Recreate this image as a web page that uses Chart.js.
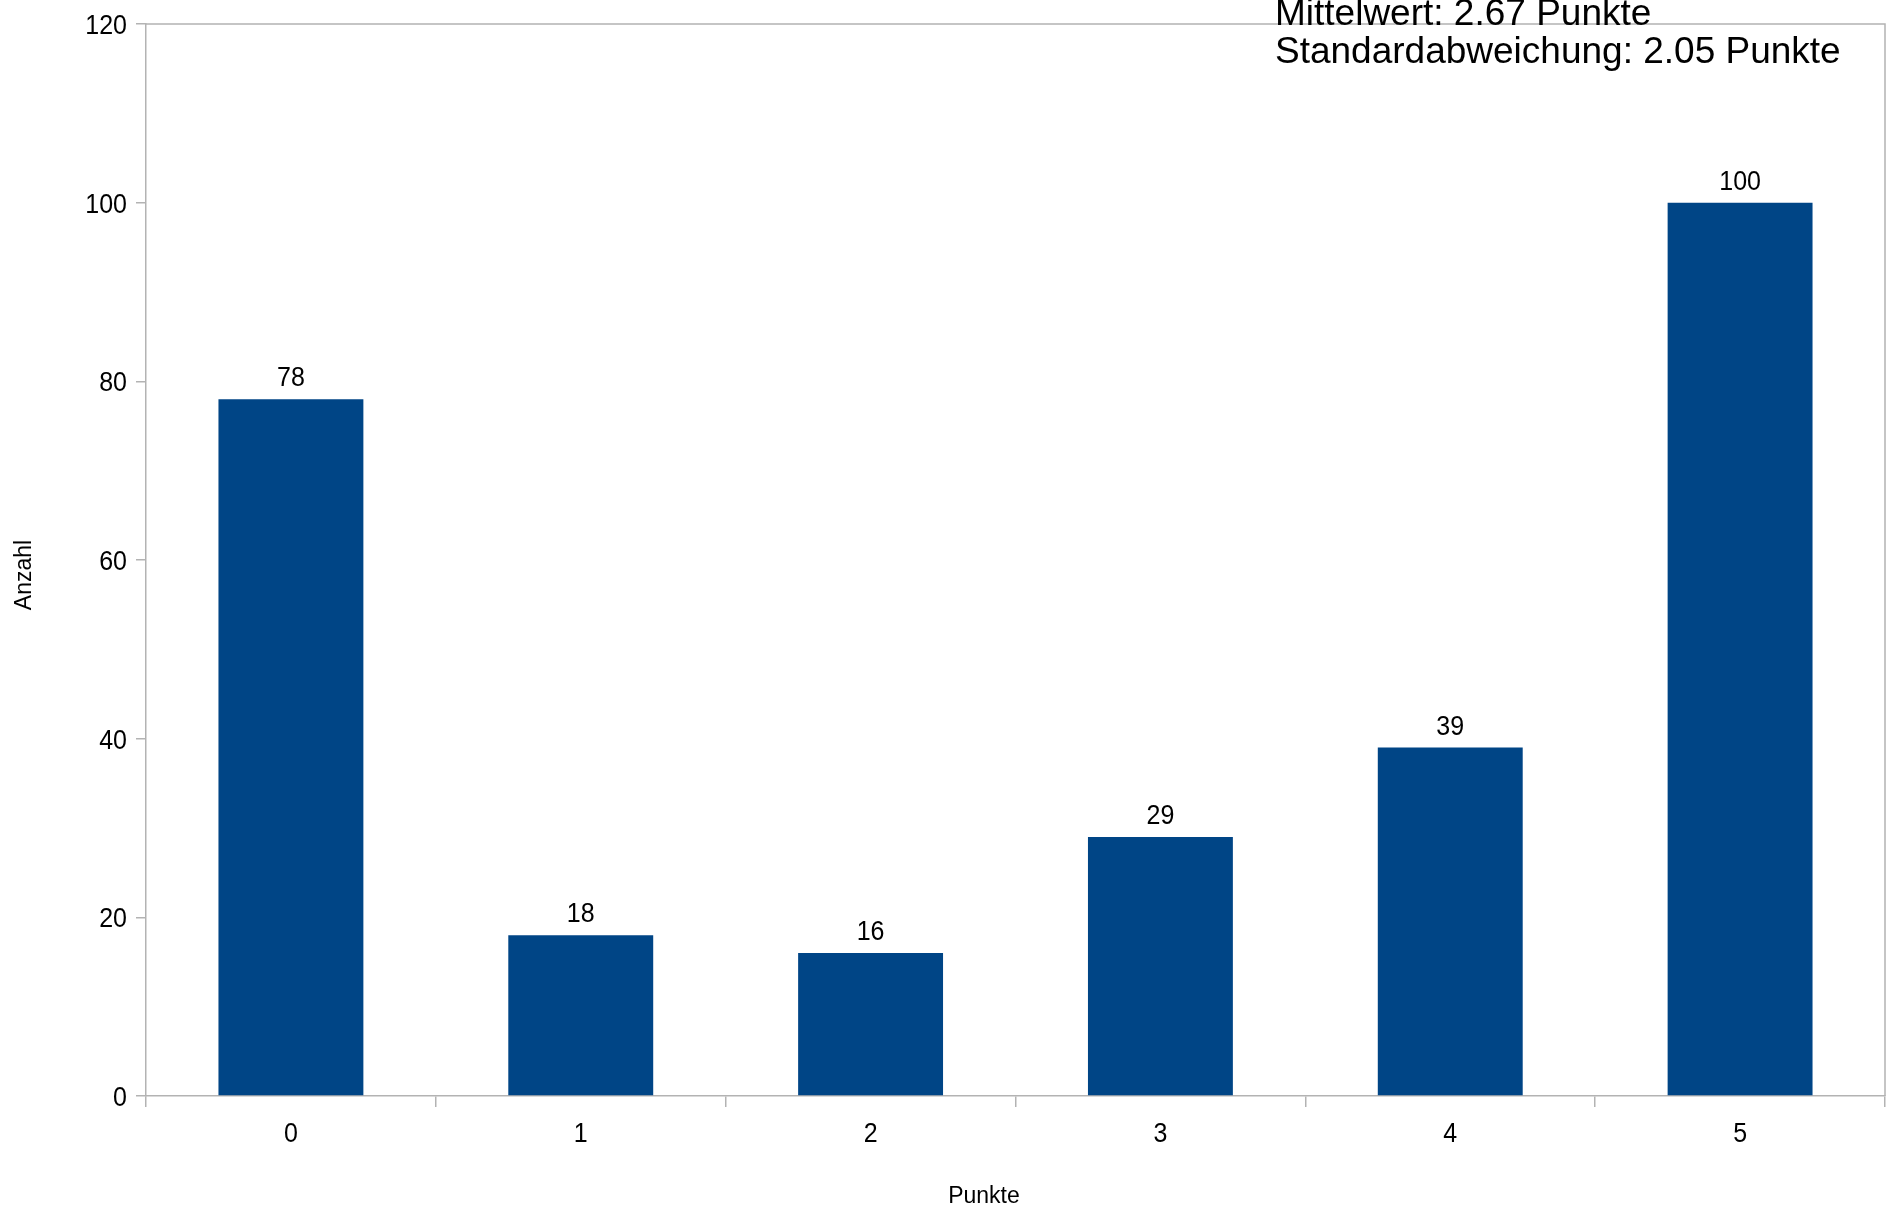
<!DOCTYPE html>
<html>
<head>
<meta charset="utf-8">
<script src="https://cdn.jsdelivr.net/npm/chart.js@4.4.1/dist/chart.umd.min.js"></script>
<style>
  html, body { margin: 0; padding: 0; background: #fff; overflow: hidden; }
  #wrap { width: 1894px; height: 1209px; position: relative; }
  #wrap canvas { display: block; }
</style>
</head>
<body>
<div id="wrap"><canvas id="chart-punkte"></canvas></div>
<script>
// ---- Data ----
const punkte = ['0', '1', '2', '3', '4', '5'];
const anzahl = [78, 18, 16, 29, 39, 100];
const yTicks = [0, 20, 40, 60, 80, 100, 120];
const statsLines = ['Mittelwert: 2.67 Punkte', 'Standardabweichung: 2.05 Punkte'];

const FONT = "'Liberation Sans', Arial, sans-serif";
const GREY = '#b3b3b3';
const NUM_FONT = `25px ${FONT}`;
const STRETCH = 1.12;   // numbers in the original are drawn slightly tall

Chart.defaults.font.family = FONT;
Chart.defaults.color = '#000';

// draws a label with a little vertical stretch, baseline at y
function tallText(ctx, text, x, y, align) {
  ctx.save();
  ctx.translate(x, y);
  ctx.scale(1, STRETCH);
  ctx.textAlign = align;
  ctx.fillText(text, 0, 0);
  ctx.restore();
}

// frame (top + right), tick labels, value labels, axis titles, stats text
const decorations = {
  id: 'decorations',
  afterDatasetsDraw(chart) {
    const { ctx, chartArea: a, scales } = chart;
    ctx.save();
    ctx.strokeStyle = GREY;
    ctx.lineWidth = 1.5;
    ctx.beginPath();
    ctx.moveTo(a.left, a.top);
    ctx.lineTo(a.right, a.top);
    ctx.lineTo(a.right, a.bottom);
    ctx.stroke();

    ctx.fillStyle = '#000';
    ctx.textBaseline = 'alphabetic';
    ctx.font = NUM_FONT;

    // y tick labels
    yTicks.forEach(v => {
      tallText(ctx, String(v), a.left - 19, scales.y.getPixelForValue(v) + 10, 'right');
    });
    // x tick labels
    punkte.forEach((p, i) => {
      tallText(ctx, p, scales.x.getPixelForTick(i), a.bottom + 46, 'center');
    });
    // values above bars
    chart.getDatasetMeta(0).data.forEach((bar, i) => {
      tallText(ctx, String(anzahl[i]), bar.x, bar.y - 13, 'center');
    });

    // axis titles
    ctx.textAlign = 'center';
    ctx.font = `23px ${FONT}`;
    ctx.fillText('Punkte', 984, 1203);
    ctx.save();
    ctx.translate(31, 575);
    ctx.rotate(-Math.PI / 2);
    ctx.fillText('Anzahl', 0, 0);
    ctx.restore();

    // stats box text
    ctx.font = `37px ${FONT}`;
    ctx.textAlign = 'left';
    ctx.fillText(statsLines[0], 1275, 25);
    ctx.fillText(statsLines[1], 1275, 63);
    ctx.restore();
  }
};

new Chart(document.getElementById('chart-punkte'), {
  type: 'bar',
  data: {
    labels: punkte,
    datasets: [{
      label: 'Anzahl',
      data: anzahl,
      backgroundColor: '#004586',
      borderWidth: 0,
      barPercentage: 0.5,
      categoryPercentage: 1.0,
    }]
  },
  options: {
    responsive: true,
    maintainAspectRatio: false,
    animation: false,
    layout: { padding: { left: 0, right: 9, top: 21, bottom: 0 } },
    plugins: {
      legend: { display: false },
      tooltip: { enabled: false }
    },
    scales: {
      x: {
        offset: true,
        grid: {
          offset: true,
          drawOnChartArea: false,
          drawTicks: true,
          tickLength: 11,
          color: GREY,
          lineWidth: 1.5
        },
        border: { color: GREY, width: 1.5 },
        // labels are painted by the decorations plugin
        ticks: { font: { size: 25 }, padding: 11, color: 'rgba(0,0,0,0)' },
        afterFit: s => { s.height = 113; }
      },
      y: {
        min: 0,
        max: 120,
        afterBuildTicks: s => { s.ticks = yTicks.map(v => ({ value: v })); },
        grid: {
          drawOnChartArea: false,
          drawTicks: true,
          tickLength: 10,
          color: GREY,
          lineWidth: 1.5
        },
        border: { color: GREY, width: 1.5 },
        ticks: { font: { size: 25 }, padding: 9, color: 'rgba(0,0,0,0)' },
        afterFit: s => { s.width = 146; }
      }
    }
  },
  plugins: [decorations]
});
</script>
</body>
</html>
